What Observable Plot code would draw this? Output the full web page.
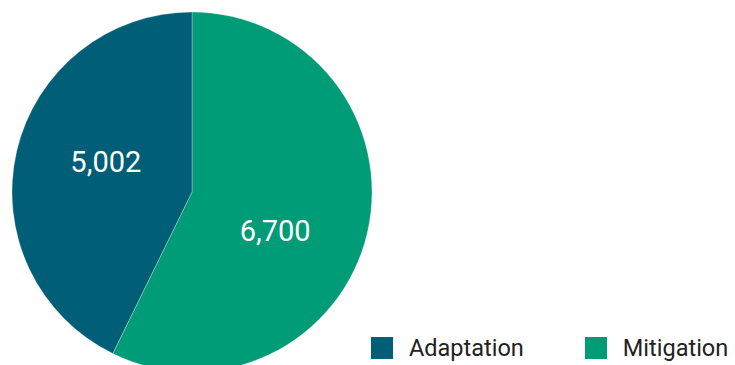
<!DOCTYPE html>
<html>
<head>
<meta charset="utf-8">
<script src="https://cdn.jsdelivr.net/npm/d3@7"></script>
<script src="https://cdn.jsdelivr.net/npm/@observablehq/plot@0.6"></script>
<style>
  html, body { margin: 0; padding: 0; background: #fff; }
  #wrap { position: relative; width: 735px; height: 365px; overflow: hidden; font-family: Roboto, "Noto Sans", sans-serif; }
  .legend { position: absolute; top: 337px; left: 371px; display: flex; align-items: center; }
  .item { display: flex; align-items: center; }
  .sw { width: 22px; height: 22px; display: inline-block; }
  .lab { font-size: 23.5px; color: #222; margin-left: 16px; line-height: 22px; }
</style>
</head>
<body>
<div id="wrap"></div>
<script>
const categories = ["Mitigation", "Adaptation"];
const values = [6700, 5002];
const labels = ["6,700", "5,002"];
const colors = ["#009b77", "#005e77"];
const legendOrder = ["Adaptation", "Mitigation"];

const data = categories.map((c, i) => ({ category: c, value: values[i], label: labels[i] }));
const pie = d3.pie().sort(null).value(d => d.value)(data);
const unitArc = d3.arc().innerRadius(0).outerRadius(1);
pie.forEach(p => {
  const [cx, cy] = unitArc.centroid(p);
  p.cx = cx; p.cy = cy;
});
// small label nudges (pixels) to match reference placement
const nudge = { Mitigation: [-5, 19], Adaptation: [1, -9] };

const color = d3.scaleOrdinal(categories, colors);

const chart = Plot.plot({
  width: 735,
  height: 365,
  margin: 0,
  x: { domain: [-1, 1], range: [12, 372], axis: null },
  y: { domain: [-1, 1], range: [12, 372], axis: null },
  marks: [
    (index, scales) => {
      const sx = scales.x, sy = scales.y;
      const r = (sx(1) - sx(-1)) / 2;
      const g = d3.create("svg:g").attr("transform", `translate(${sx(0)},${sy(0)})`);
      const arc = d3.arc().innerRadius(0).outerRadius(r);
      g.selectAll("path").data(pie).join("path")
        .attr("d", arc)
        .attr("fill", d => color(d.data.category))
        .attr("stroke", "#fff")
        .attr("stroke-width", 0.6)
        .attr("stroke-opacity", 0.5);
      return g.node();
    },
    Plot.text(pie, {
      x: "cx",
      y: "cy",
      text: d => d.data.label,
      fill: "#fff",
      fontSize: 29,
      fontFamily: "Roboto",
      render: (index, scales, values, dims, ctx, next) => {
        const node = next(index, scales, values, dims, ctx);
        d3.select(node).selectAll("text").each(function(_, j) {
          const p = pie[index[j]];
          const [ox, oy] = nudge[p.data.category];
          const t = d3.select(this);
          const tr = t.attr("transform") || "";
          t.attr("transform", tr + ` translate(${ox},${oy})`);
        });
        return node;
      }
    })
  ]
});

const wrap = document.getElementById("wrap");
wrap.appendChild(chart);

const legend = document.createElement("div");
legend.className = "legend";
legendOrder.forEach((c, i) => {
  const item = document.createElement("div");
  item.className = "item";
  if (i > 0) item.style.marginLeft = "61px";
  const sw = document.createElement("span");
  sw.className = "sw";
  sw.style.background = color(c);
  const lab = document.createElement("span");
  lab.className = "lab";
  lab.textContent = c;
  item.appendChild(sw);
  item.appendChild(lab);
  legend.appendChild(item);
});
wrap.appendChild(legend);
</script>
</body>
</html>
